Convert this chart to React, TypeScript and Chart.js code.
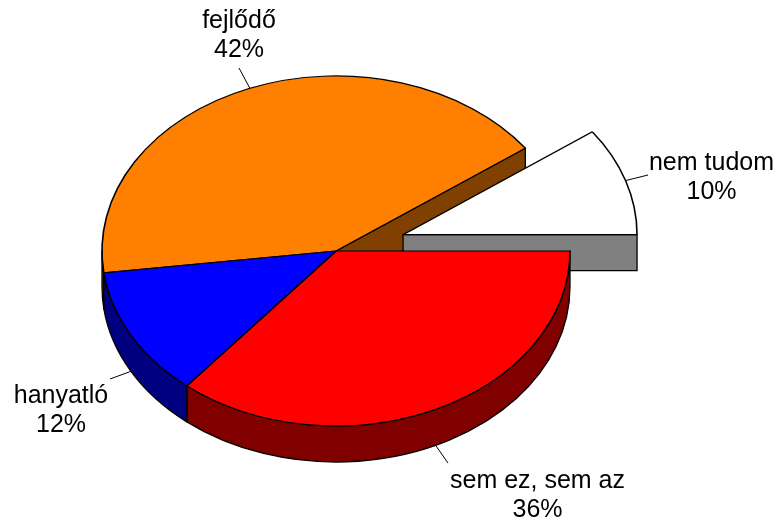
import { useEffect, useRef } from "react";
import { Chart, registerables } from "chart.js";

Chart.register(...registerables);

// ---- data ----
const categories = ["fejlődő", "nem tudom", "sem ez, sem az", "hanyatló"];
const values = [42, 10, 36, 12];
const topColors = ["#FF8000", "#FFFFFF", "#FF0000", "#0000FF"];
const sideColors = ["#804000", "#808080", "#800000", "#000080"];
const explode = [0, 70.5, 0, 0];

// ---- 3D look ----
const TILT = 0.748;
const DEPTH = 36;
const FONT = '25px "Liberation Sans", Arial, sans-serif';

// label text centres (x, first baseline) and leader end points
const labelLayout = [
  { tx: 239, ty: 28, lx: 239, ly: 68 },
  { tx: 711.5, ty: 170, lx: 648, ly: 175 },
  { tx: 537.5, ty: 488, lx: 448, ly: 463 },
  { tx: 61, ty: 403, lx: 110, ly: 379 },
];

type Geo = { ox: number; oy: number; cx: number; cy: number; r: number; s: number; e: number; mid: number; ex: number };

function geometry(chart: any): Geo[] {
  const meta = chart.getDatasetMeta(0);
  return meta.data.map((a: any, i: number) => {
    const p = a.getProps(["x", "y", "startAngle", "endAngle", "outerRadius"], true);
    const mid = (p.startAngle + p.endAngle) / 2;
    const ex = explode[i] || 0;
    return {
      cx: p.x,
      cy: p.y,
      ox: p.x + Math.cos(mid) * ex,
      oy: p.y + Math.sin(mid) * ex * TILT,
      r: p.outerRadius,
      s: p.startAngle,
      e: p.endAngle,
      mid,
      ex,
    };
  });
}

const pie3d = {
  id: "pie3d",
  beforeDatasetsDraw(chart: any) {
    const ctx: CanvasRenderingContext2D = chart.ctx;
    const meta = chart.getDatasetMeta(0);
    const arcs = meta.data;
    const g = geometry(chart);
    const n = g.length;
    ctx.save();
    ctx.lineWidth = 1.3;
    ctx.strokeStyle = "#000";
    ctx.lineJoin = "round";

    // radial cut faces (only where a slice is separated from its neighbour)
    g.forEach((s, i) => {
      const prev = (i - 1 + n) % n;
      const next = (i + 1) % n;
      const edges: [number, boolean][] = [
        [s.s, s.ex > 0 || g[prev].ex > 0],
        [s.e, s.ex > 0 || g[next].ex > 0],
      ];
      edges.forEach(([a, open], k) => {
        if (!open) return;
        const vis = k === 0 ? Math.cos(a) < -1e-6 : Math.cos(a) > 1e-6;
        if (!vis) return;
        const rx = s.ox + s.r * Math.cos(a);
        const ry = s.oy + s.r * TILT * Math.sin(a);
        ctx.beginPath();
        ctx.moveTo(s.ox, s.oy);
        ctx.lineTo(rx, ry);
        ctx.lineTo(rx, ry + DEPTH);
        ctx.lineTo(s.ox, s.oy + DEPTH);
        ctx.closePath();
        ctx.fillStyle = sideColors[i];
        ctx.fill();
        ctx.stroke();
      });
    });

    // outer walls (front half only)
    g.forEach((s, i) => {
      for (let k = -2; k <= 3; k++) {
        const lo = Math.max(s.s, 2 * Math.PI * k);
        const hi = Math.min(s.e, 2 * Math.PI * k + Math.PI);
        if (hi - lo <= 1e-6) continue;
        ctx.beginPath();
        ctx.ellipse(s.ox, s.oy, s.r, s.r * TILT, 0, lo, hi, false);
        ctx.ellipse(s.ox, s.oy + DEPTH, s.r, s.r * TILT, 0, hi, lo, true);
        ctx.closePath();
        ctx.fillStyle = sideColors[i];
        ctx.fill();
        ctx.stroke();
      }
    });

    // top faces: the library's own arcs, tilted
    arcs.forEach((arc: any, i: number) => {
      const s = g[i];
      ctx.save();
      ctx.translate(s.cx, s.cy);
      ctx.scale(1, TILT);
      ctx.translate(-s.cx, -s.cy);
      ctx.translate(Math.cos(s.mid) * s.ex, Math.sin(s.mid) * s.ex);
      arc.draw(ctx);
      ctx.restore();
    });
    ctx.restore();
    return false;
  },
  afterDraw(chart: any) {
    const ctx: CanvasRenderingContext2D = chart.ctx;
    const g = geometry(chart);
    const total = values.reduce((a, b) => a + b, 0);
    ctx.save();
    g.forEach((s, i) => {
      const L = labelLayout[i];
      const ax = s.ox + s.r * Math.cos(s.mid);
      let ay = s.oy + s.r * TILT * Math.sin(s.mid);
      if (Math.sin(s.mid) > 0) ay += DEPTH;
      ctx.beginPath();
      ctx.moveTo(ax, ay);
      ctx.lineTo(L.lx, L.ly);
      ctx.strokeStyle = "#000";
      ctx.lineWidth = 1;
      ctx.stroke();
      ctx.fillStyle = "#000";
      ctx.font = FONT;
      ctx.textAlign = "center";
      ctx.textBaseline = "alphabetic";
      ctx.fillText(categories[i], L.tx, L.ty);
      ctx.fillText(Math.round((values[i] / total) * 100) + "%", L.tx, L.ty + 29);
    });
    ctx.restore();
  },
};

export default function App() {
  const ref = useRef<HTMLCanvasElement | null>(null);
  useEffect(() => {
    document.body.style.margin = "0";
    if (!ref.current) return;
    const chart = new Chart(ref.current, {
      type: "pie",
      data: {
        labels: categories,
        datasets: [
          {
            data: values,
            backgroundColor: topColors,
            borderColor: "#000",
            borderWidth: 1.6,
          },
        ],
      },
      options: {
        responsive: false,
        animation: false,
        events: [],
        rotation: 262.8,
        radius: 234,
        layout: { padding: { left: 0, right: 105, top: 0, bottom: 18 } },
        plugins: { legend: { display: false }, tooltip: { enabled: false } },
      } as any,
      plugins: [pie3d as any],
    });
    return () => chart.destroy();
  }, []);
  return (
    <div style={{ position: "absolute", left: 0, top: 0, width: 777, height: 520, background: "#fff" }}>
      <canvas ref={ref} width={777} height={520} />
    </div>
  );
}
